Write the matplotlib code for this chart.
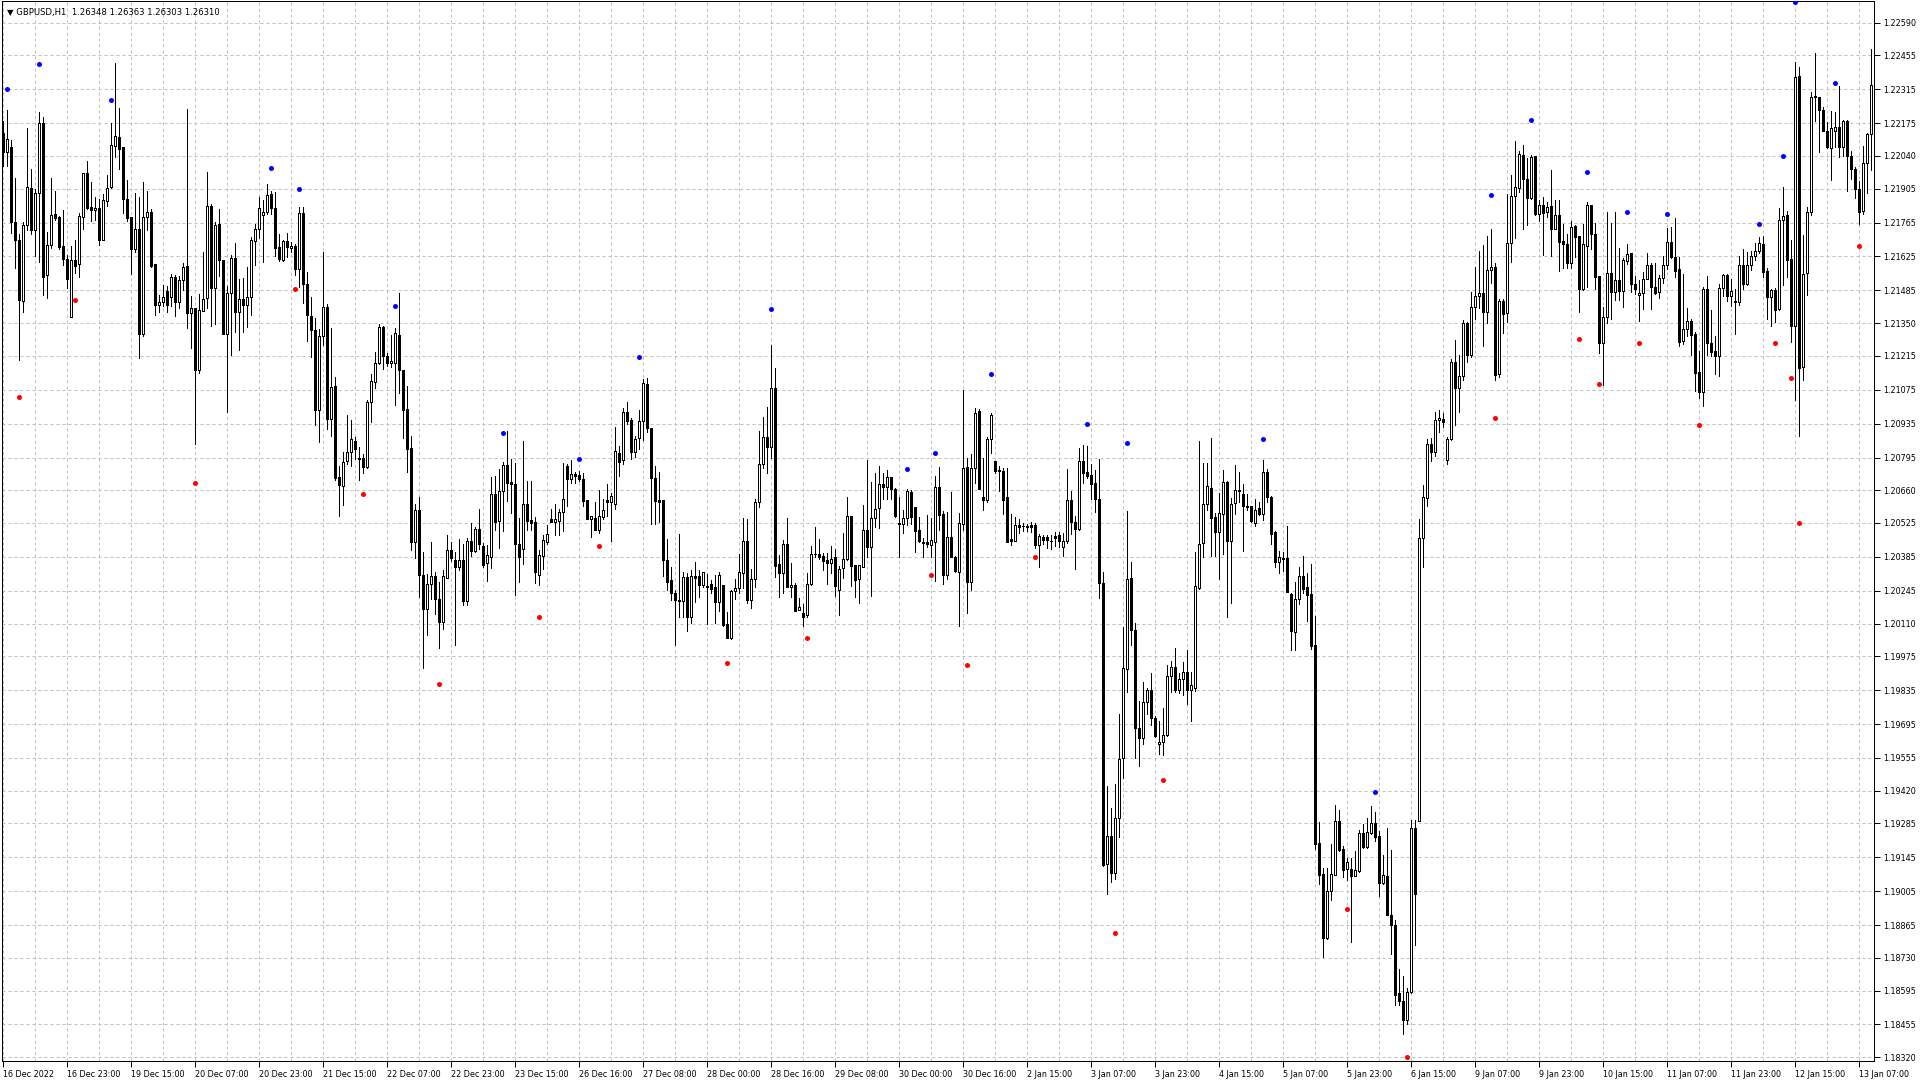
import numpy as np
import matplotlib
matplotlib.use("Agg")
import matplotlib.pyplot as plt

POINT = 1e-5  # prices below are in points (1e-5)

header = "\u25BC GBPUSD,H1  1.26348 1.26363 1.26303 1.26310"

x_labels = ["16 Dec 2022", "16 Dec 23:00", "19 Dec 15:00", "20 Dec 07:00", "20 Dec 23:00",
            "21 Dec 15:00", "22 Dec 07:00", "22 Dec 23:00", "23 Dec 15:00", "26 Dec 16:00",
            "27 Dec 08:00", "28 Dec 00:00", "28 Dec 16:00", "29 Dec 08:00", "30 Dec 00:00",
            "30 Dec 16:00", "2 Jan 15:00", "3 Jan 07:00", "3 Jan 23:00", "4 Jan 15:00",
            "5 Jan 07:00", "5 Jan 23:00", "6 Jan 15:00", "9 Jan 07:00", "9 Jan 23:00",
            "10 Jan 15:00", "11 Jan 07:00", "11 Jan 23:00", "12 Jan 15:00", "13 Jan 07:00"]

y_labels = ["1.22590", "1.22455", "1.22315", "1.22175", "1.22040", "1.21905", "1.21765",
            "1.21625", "1.21485", "1.21350", "1.21215", "1.21075", "1.20935", "1.20795",
            "1.20660", "1.20525", "1.20385", "1.20245", "1.20110", "1.19975", "1.19835",
            "1.19695", "1.19555", "1.19420", "1.19285", "1.19145", "1.19005", "1.18865",
            "1.18730", "1.18595", "1.18455", "1.18320"]

open_pts = [
    122135, 122056, 122078, 121768, 121695, 121440, 121754, 121908, 121733, 121888,
    122177, 121549, 121673, 121802, 121786, 121669, 121615, 121375, 121612, 121594,
    121787, 121970, 121830, 121816, 121826, 121695, 121853, 121911, 122080, 122119,
    122078, 121863, 121786, 121658, 121739, 121304, 121787, 121809, 121594, 121424,
    121436, 121484, 121457, 121541, 121436, 121530, 121586, 121392, 121413, 121158,
    121399, 121452, 121835, 121495, 121761, 121612, 121307, 121474, 121619, 121395,
    121450, 121423, 121457, 121689, 121738, 121795, 121807, 121883, 121826, 121663,
    121611, 121689, 121659, 121667, 121575, 121804, 121511, 121381, 121321, 120990,
    121297, 121416, 120953, 121091, 120713, 120678, 120780, 120820, 120864, 120794,
    120794, 120756, 121026, 121107, 121186, 121334, 121216, 121185, 121185, 121301,
    121156, 120997, 120835, 120446, 120580, 120310, 120169, 120273, 120307, 120212,
    120117, 120297, 120415, 120371, 120343, 120372, 120205, 120452, 120409, 120500,
    120431, 120358, 120383, 120643, 120534, 120658, 120763, 120693, 120684, 120440,
    120416, 120602, 120537, 120530, 120312, 120390, 120447, 120541, 120530, 120534,
    120569, 120761, 120708, 120727, 120723, 120706, 120620, 120541, 120545, 120496,
    120550, 120620, 120613, 120602, 120812, 120785, 120982, 120950, 120819, 120874,
    120947, 121098, 120916, 120709, 120620, 120620, 120372, 120289, 120237, 120204,
    120204, 120303, 120135, 120306, 120306, 120268, 120264, 120272, 120261, 120200,
    120271, 120107, 120051, 120245, 120255, 120317, 120450, 120209, 120292, 120613,
    120767, 120879, 120840, 121081, 120354, 120317, 120440, 120261, 120268, 120165,
    120154, 120147, 120272, 120396, 120396, 120388, 120372, 120361, 120383, 120250,
    120340, 120378, 120553, 120351, 120293, 120344, 120496, 120424, 120544, 120585,
    120686, 120672, 120713, 120664, 120527, 120520, 120544, 120654, 120589, 120496,
    120445, 120445, 120436, 120447, 120672, 120562, 120310, 120468, 120385, 120323,
    120521, 120758, 120283, 120753, 120987, 120631, 120620, 120870, 120781, 120743,
    120741, 120631, 120459, 120449, 120518, 120513, 120511, 120518, 120516, 120433,
    120466, 120466, 120452, 120472, 120475, 120426, 120449, 120619, 120531, 120501,
    120781, 120735, 120723, 120689, 120623, 120279, 119116, 119232, 119082, 119307,
    119553, 119924, 120299, 120083, 119679, 119638, 119786, 119836, 119722, 119613,
    119622, 119648, 119893, 119931, 119837, 119881, 119912, 119837, 119844, 120257,
    120443, 120602, 120671, 120548, 120487, 120563, 120693, 120451, 120608, 120657,
    120645, 120594, 120594, 120525, 120585, 120563, 120734, 120633, 120486, 120366,
    120379, 120379, 120230, 120074, 120211, 120307, 120259, 120230, 120023, 119204,
    119076, 118810, 119004, 119072, 119294, 119179, 119096, 119098, 119067, 119090,
    119244, 119187, 119247, 119287, 119235, 119041, 119067, 118908, 118866, 118587,
    118553, 118475, 118590, 119264, 119294, 120462, 120628, 120851, 120820, 120950,
    120956, 120784, 120870, 121190, 121083, 121133, 121349, 121218, 121415, 121462,
    121473, 121397, 121569, 121583, 121142, 121441, 121390, 121679, 121875, 121907,
    122044, 121944, 121865, 122040, 121799, 121838, 121808, 121835, 121737, 121797,
    121689, 121675, 121597, 121751, 121710, 121491, 121670, 121838, 121718, 121544,
    121270, 121374, 121555, 121477, 121528, 121484, 121608, 121638, 121511, 121466,
    121473, 121532, 121590, 121500, 121477, 121535, 121590, 121683, 121622, 121572,
    121277, 121327, 121358, 121305, 121149, 121064, 121490, 121267, 121234, 121213,
    121494, 121547, 121462, 121440, 121437, 121589, 121511, 121589, 121625, 121646,
    121675, 121564, 121457, 121486, 121409, 121774, 121795, 121613, 121338, 122370,
    121168, 121557, 121807, 122282, 122285, 122231, 122143, 122072, 122143, 122160,
    122079, 122186, 122041, 121987, 121902, 121814, 122012, 122129]

high_pts = [
    122184, 122228, 122104, 121950, 121718, 121768, 122156, 121987, 121904, 122222,
    122202, 121726, 121950, 121897, 121791, 121817, 121631, 121669, 121695, 121805,
    121970, 122021, 121933, 121871, 121863, 121881, 121963, 122174, 122422, 122239,
    122078, 121939, 121786, 121888, 121870, 121933, 121897, 121819, 121594, 121468,
    121509, 121502, 121554, 121549, 121543, 121598, 122235, 121463, 121413, 121472,
    121645, 121974, 121842, 121766, 121823, 121612, 121505, 121633, 121681, 121532,
    121537, 121582, 121706, 121760, 121870, 121858, 121924, 121895, 121892, 121717,
    121693, 121721, 121684, 121676, 121828, 121828, 121561, 121457, 121372, 121327,
    121642, 121430, 121331, 121128, 120761, 120818, 120972, 120950, 120878, 120837,
    120811, 121034, 121142, 121230, 121348, 121339, 121227, 121302, 121329, 121476,
    121156, 121091, 120886, 120605, 120631, 120406, 120316, 120446, 120324, 120283,
    120330, 120477, 120446, 120404, 120460, 120439, 120463, 120527, 120507, 120581,
    120443, 120434, 120715, 120719, 120748, 120777, 120905, 120788, 120771, 120544,
    120863, 120698, 120698, 120548, 120413, 120475, 120516, 120582, 120603, 120584,
    120771, 120767, 120785, 120737, 120739, 120730, 120620, 120553, 120611, 120661,
    120626, 120686, 120650, 120923, 120843, 121001, 121024, 120957, 120884, 120991,
    121120, 121122, 120916, 120760, 120737, 120620, 120457, 120344, 120248, 120479,
    120323, 120319, 120330, 120362, 120333, 120323, 120314, 120289, 120310, 120323,
    120271, 120158, 120248, 120292, 120396, 120544, 120540, 120337, 120622, 120905,
    120961, 121002, 121260, 121164, 120392, 120454, 120544, 120358, 120278, 120216,
    120190, 120317, 120430, 120509, 120457, 120402, 120402, 120430, 120416, 120347,
    120485, 120633, 120553, 120351, 120351, 120599, 120785, 120695, 120730, 120760,
    120730, 120743, 120716, 120668, 120633, 120578, 120665, 120661, 120589, 120548,
    120465, 120558, 120544, 120719, 120757, 120575, 120569, 120654, 120388, 120565,
    121075, 120793, 120808, 120998, 120995, 120793, 120880, 120980, 120781, 120761,
    120750, 120753, 120563, 120548, 120541, 120524, 120521, 120528, 120524, 120478,
    120475, 120475, 120475, 120487, 120487, 120482, 120747, 120655, 120554, 120834,
    120845, 120842, 120769, 120743, 120788, 120322, 119439, 119350, 119449, 119737,
    120095, 120574, 120363, 120111, 119789, 119869, 119844, 119905, 119728, 119706,
    119763, 119939, 119957, 120008, 119904, 119951, 120000, 119912, 120406, 120865,
    120774, 120774, 120877, 120568, 120650, 120743, 120700, 120628, 120765, 120736,
    120688, 120645, 120597, 120623, 120611, 120783, 120748, 120637, 120491, 120409,
    120405, 120511, 120234, 120280, 120345, 120388, 120319, 120357, 120143, 119290,
    119101, 119101, 119199, 119359, 119342, 119192, 119144, 119144, 119170, 119256,
    119282, 119307, 119355, 119333, 119252, 119153, 119264, 119175, 118887, 118686,
    118656, 118607, 119299, 119299, 120542, 120680, 120872, 120877, 120985, 120990,
    120977, 120881, 121200, 121280, 121218, 121363, 121356, 121480, 121583, 121646,
    121672, 121711, 121737, 121597, 121448, 121448, 121882, 121962, 122102, 122061,
    122086, 122031, 122042, 122040, 121858, 121872, 121852, 121982, 121858, 121858,
    121759, 121717, 121772, 121755, 121710, 121759, 121849, 121838, 121765, 121544,
    121415, 121807, 121762, 121807, 121660, 121617, 121675, 121641, 121544, 121528,
    121560, 121638, 121597, 121597, 121549, 121628, 121741, 121746, 121785, 121624,
    121554, 121412, 121369, 121312, 121234, 121500, 121544, 121405, 121298, 121511,
    121551, 121554, 121533, 121490, 121625, 121656, 121642, 121646, 121679, 121707,
    121710, 121578, 121490, 121494, 121826, 121912, 121812, 121693, 122427, 122406,
    121713, 121831, 122302, 122465, 122285, 122243, 122179, 122224, 122221, 122328,
    122190, 122190, 122062, 121994, 121937, 122083, 122133, 122481]

low_pts = [
    121998, 122000, 121722, 121576, 121196, 121395, 121733, 121718, 121626, 121601,
    121468, 121454, 121659, 121777, 121654, 121589, 121495, 121375, 121557, 121541,
    121739, 121821, 121771, 121777, 121671, 121692, 121835, 121908, 122036, 121988,
    121804, 121771, 121554, 121643, 121205, 121295, 121736, 121582, 121385, 121395,
    121419, 121395, 121419, 121381, 121411, 121488, 121329, 121246, 120852, 121144,
    121399, 121411, 121337, 121346, 121546, 121304, 120982, 121220, 121312, 121238,
    121312, 121332, 121383, 121589, 121703, 121601, 121802, 121802, 121629, 121606,
    121605, 121622, 121642, 121547, 121501, 121433, 121275, 121210, 120929, 120858,
    121258, 120912, 120884, 120702, 120553, 120600, 120770, 120761, 120790, 120702,
    120730, 120752, 120940, 121081, 121180, 121159, 121175, 121168, 121011, 121060,
    120876, 120737, 120414, 120380, 120219, 119928, 120063, 120212, 120148, 120010,
    120087, 120297, 120368, 120020, 120330, 120188, 120188, 120389, 120406, 120418,
    120344, 120286, 120340, 120496, 120423, 120493, 120614, 120565, 120228, 120282,
    120354, 120496, 120498, 120278, 120268, 120337, 120438, 120530, 120475, 120475,
    120493, 120596, 120691, 120691, 120700, 120596, 120541, 120468, 120496, 120482,
    120540, 120553, 120452, 120584, 120719, 120767, 120934, 120788, 120799, 120829,
    120868, 120902, 120519, 120519, 120530, 120306, 120248, 120206, 120020, 120137,
    120137, 120080, 120113, 120199, 120220, 120259, 120110, 120237, 120113, 120162,
    120099, 120052, 120048, 120213, 120234, 120255, 120195, 120176, 120262, 120592,
    120753, 120733, 120792, 120303, 120220, 120234, 120259, 120220, 120162, 120165,
    120099, 120137, 120268, 120385, 120378, 120330, 120272, 120319, 120223, 120144,
    120296, 120374, 120264, 120220, 120195, 120344, 120385, 120223, 120507, 120505,
    120622, 120622, 120626, 120551, 120383, 120482, 120516, 120520, 120406, 120447,
    120383, 120427, 120383, 120286, 120498, 120272, 120292, 120383, 120323, 120099,
    120498, 120153, 120248, 120689, 120666, 120579, 120612, 120814, 120732, 120658,
    120563, 120447, 120433, 120449, 120485, 120490, 120490, 120487, 120421, 120342,
    120437, 120421, 120417, 120429, 120426, 120388, 120444, 120478, 120337, 120498,
    120692, 120712, 120625, 120570, 120215, 119110, 118995, 119044, 119056, 119227,
    119472, 119827, 120023, 119553, 119521, 119613, 119737, 119691, 119641, 119572,
    119567, 119644, 119829, 119829, 119824, 119817, 119778, 119709, 119832, 120253,
    120385, 120577, 120388, 120388, 120294, 120397, 120139, 120194, 120563, 120611,
    120409, 120577, 120529, 120511, 120556, 120539, 120611, 120439, 120345, 120319,
    120328, 120242, 120002, 120002, 120191, 120234, 120119, 120005, 119179, 119033,
    118733, 118806, 118969, 119072, 119170, 119062, 119053, 118796, 119067, 119084,
    119184, 119184, 119242, 119213, 118987, 119033, 118908, 118746, 118535, 118535,
    118415, 118455, 118587, 118784, 119294, 120345, 120594, 120782, 120800, 120900,
    120922, 120770, 120867, 120929, 120984, 121115, 121190, 121211, 121365, 121411,
    121255, 121352, 121517, 121117, 121129, 121308, 121356, 121604, 121700, 121893,
    121737, 121755, 121863, 121796, 121773, 121631, 121790, 121627, 121737, 121567,
    121579, 121579, 121579, 121624, 121397, 121487, 121498, 121656, 121491, 121228,
    121094, 121352, 121365, 121445, 121445, 121418, 121594, 121480, 121469, 121360,
    121407, 121532, 121408, 121470, 121455, 121517, 121572, 121620, 121542, 121255,
    121263, 121298, 121220, 121068, 121040, 121007, 121220, 121216, 121142, 121131,
    121462, 121440, 121419, 121305, 121426, 121490, 121508, 121568, 121611, 121639,
    121542, 121365, 121338, 121355, 121405, 121508, 121542, 121273, 121031, 120886,
    121116, 121466, 121795, 122186, 122058, 122143, 122072, 121941, 122079, 122037,
    122039, 121897, 121944, 121866, 121760, 121802, 121888, 121980]

close_pts = [
    122056, 122108, 121766, 121695, 121444, 121757, 121912, 121733, 121888, 122177,
    121539, 121673, 121797, 121783, 121665, 121614, 121532, 121612, 121585, 121794,
    121970, 121826, 121816, 121826, 121695, 121859, 121908, 122086, 122122, 122067,
    121861, 121783, 121654, 121739, 121304, 121788, 121809, 121587, 121424, 121437,
    121458, 121424, 121541, 121436, 121530, 121582, 121392, 121413, 121158, 121403,
    121450, 121835, 121497, 121757, 121609, 121307, 121474, 121619, 121395, 121450,
    121423, 121457, 121693, 121738, 121824, 121809, 121878, 121824, 121662, 121613,
    121689, 121663, 121667, 121572, 121804, 121511, 121382, 121321, 120990, 121297,
    121416, 120953, 121087, 120709, 120681, 120777, 120820, 120872, 120830, 120788,
    120756, 121026, 121111, 121187, 121335, 121213, 121185, 121195, 121310, 121156,
    120993, 120830, 120446, 120577, 120310, 120169, 120273, 120307, 120212, 120117,
    120307, 120415, 120380, 120343, 120372, 120205, 120452, 120411, 120500, 120439,
    120351, 120391, 120643, 120530, 120658, 120763, 120691, 120684, 120440, 120385,
    120602, 120534, 120526, 120323, 120392, 120454, 120478, 120530, 120540, 120570,
    120626, 120708, 120727, 120720, 120706, 120617, 120541, 120553, 120496, 120553,
    120578, 120613, 120636, 120822, 120778, 120982, 120947, 120819, 120870, 120947,
    121102, 120916, 120709, 120617, 120613, 120372, 120282, 120237, 120206, 120206,
    120303, 120135, 120306, 120299, 120268, 120321, 120259, 120253, 120200, 120310,
    120103, 120052, 120244, 120255, 120323, 120450, 120209, 120292, 120613, 120767,
    120879, 120837, 121081, 120347, 120317, 120440, 120261, 120271, 120162, 120179,
    120137, 120272, 120399, 120399, 120385, 120369, 120361, 120378, 120264, 120337,
    120378, 120553, 120347, 120289, 120351, 120496, 120424, 120544, 120581, 120686,
    120672, 120713, 120664, 120553, 120520, 120544, 120657, 120551, 120493, 120452,
    120443, 120438, 120454, 120672, 120560, 120310, 120468, 120385, 120328, 120526,
    120753, 120283, 120753, 120977, 120666, 120620, 120870, 120969, 120739, 120739,
    120620, 120447, 120449, 120518, 120508, 120511, 120510, 120508, 120433, 120470,
    120456, 120455, 120452, 120462, 120449, 120449, 120619, 120528, 120501, 120781,
    120732, 120720, 120684, 120625, 120276, 119113, 119232, 119082, 119307, 119552,
    119927, 120294, 120083, 119679, 119638, 119786, 119835, 119722, 119645, 119622,
    119651, 119893, 119931, 119837, 119881, 119912, 119837, 119858, 120264, 120439,
    120602, 120676, 120546, 120487, 120568, 120693, 120451, 120602, 120662, 120662,
    120594, 120589, 120534, 120580, 120563, 120734, 120633, 120479, 120362, 120383,
    120376, 120242, 120079, 120211, 120307, 120254, 120228, 120019, 119201, 119072,
    118810, 119007, 119076, 119294, 119175, 119093, 119127, 119067, 119093, 119244,
    119187, 119251, 119287, 119230, 119041, 119071, 118908, 118866, 118578, 118553,
    118475, 118590, 119264, 118995, 120465, 120632, 120851, 120820, 120950, 120960,
    120942, 120870, 121190, 121083, 121133, 121349, 121218, 121415, 121462, 121473,
    121397, 121569, 121583, 121135, 121441, 121386, 121679, 121875, 121911, 122047,
    121944, 121865, 122035, 121799, 121838, 121803, 121831, 121737, 121797, 121686,
    121675, 121597, 121748, 121707, 121491, 121677, 121838, 121717, 121542, 121270,
    121374, 121555, 121477, 121528, 121484, 121611, 121635, 121510, 121491, 121473,
    121532, 121590, 121500, 121473, 121535, 121590, 121686, 121622, 121567, 121273,
    121327, 121358, 121301, 121145, 121064, 121490, 121266, 121232, 121213, 121494,
    121547, 121462, 121483, 121437, 121589, 121511, 121589, 121625, 121649, 121679,
    121561, 121457, 121486, 121405, 121774, 121791, 121611, 121338, 122366, 121163,
    121554, 121807, 122285, 122288, 122231, 122143, 122079, 122154, 122160, 122079,
    122186, 122039, 121987, 121902, 121809, 122012, 122129, 122331]

blue_idx = [1, 9, 27, 67, 74, 98, 125, 144, 159, 192, 226, 233, 247, 271, 281, 315,
            343, 372, 382, 396, 406, 416, 439, 445, 448, 458]
blue_pts = [122317, 122421, 122272, 121990, 121903, 121420, 120895, 120788, 121209,
            121407, 120746, 120812, 121142, 120932, 120854, 120872, 119414, 121878,
            122188, 121973, 121807, 121799, 121761, 122041, 122674, 122342]
red_idx = [4, 18, 48, 73, 90, 109, 134, 149, 181, 201, 232, 241, 258, 278, 290, 336,
           351, 373, 394, 399, 409, 424, 443, 447, 449, 464]
red_pts = [121045, 121446, 120689, 121490, 120645, 119861, 120139, 120428, 119949,
           120052, 120312, 119939, 120383, 118834, 119463, 118930, 118321, 120960,
           121283, 121097, 121270, 120928, 121270, 121122, 120527, 121670]

# ---------------------------------------------------------------------------
o = np.array(open_pts) * POINT
h = np.array(high_pts) * POINT
l = np.array(low_pts) * POINT
c = np.array(close_pts) * POINT
n = len(o)
idx = np.arange(n)

W, H = 1920, 1080
plt.rcParams['font.family'] = ['DejaVu Sans']
fig = plt.figure(figsize=(W / 100, H / 100), dpi=100)
fig.patch.set_facecolor('white')
ax = fig.add_axes([2 / W, 19 / H, 1872 / W, 1060 / H])
ax.set_facecolor('white')

ax.set_xlim(-0.325, n - 0.325)
ax.set_ylim(1.183043, 1.226796)

grid_kw = dict(color='#BEBEBE', linewidth=0.72, linestyle=(0, (3, 3)))

# x axis: labels every 16 bars, grid every 8 bars
ax.set_xticks(np.arange(0, n, 16))
ax.set_xticklabels(x_labels, ha='left')
ax.set_xticks(np.arange(8, n, 16), minor=True)
ax.tick_params(axis='x', which='major', length=4, width=0.72, direction='out',
               pad=2.5, labelsize=5.8, colors='black')
ax.tick_params(axis='x', which='minor', length=0)

# y axis on the right
yt = [float(s) for s in y_labels]
ax.set_yticks(yt, labels=y_labels)
ax.yaxis.tick_right()
ax.tick_params(axis='y', which='major', length=4, width=0.72, direction='out',
               pad=2.5, labelsize=5.8, colors='black', left=False)

ax.grid(True, which='both', axis='x', **grid_kw)
ax.grid(True, which='major', axis='y', **grid_kw)
ax.set_axisbelow(True)

for sp in ax.spines.values():
    sp.set_color('black')
    sp.set_linewidth(0.72)

# candles
up = c >= o
ax.vlines(idx, l, h, colors='black', linewidth=0.72, zorder=2, antialiased=False)
ax.bar(idx, np.abs(c - o), bottom=np.minimum(o, c), width=0.5,
       color=np.where(up, 'white', 'black'), edgecolor='black', linewidth=0.72,
       zorder=3, antialiased=False)

# indicator dots
ax.plot(blue_idx, np.array(blue_pts) * POINT, 'o', color='#0000FF', ms=3.6, mew=0, zorder=4)
ax.plot(red_idx, np.array(red_pts) * POINT, 'o', color='#FF0000', ms=3.6, mew=0, zorder=4)

fig.text(7 / W, 1 - 12 / H, header, fontsize=6.1, ha='left', va='center', color='black')

fig.savefig('out.png', dpi=100, facecolor='white')
